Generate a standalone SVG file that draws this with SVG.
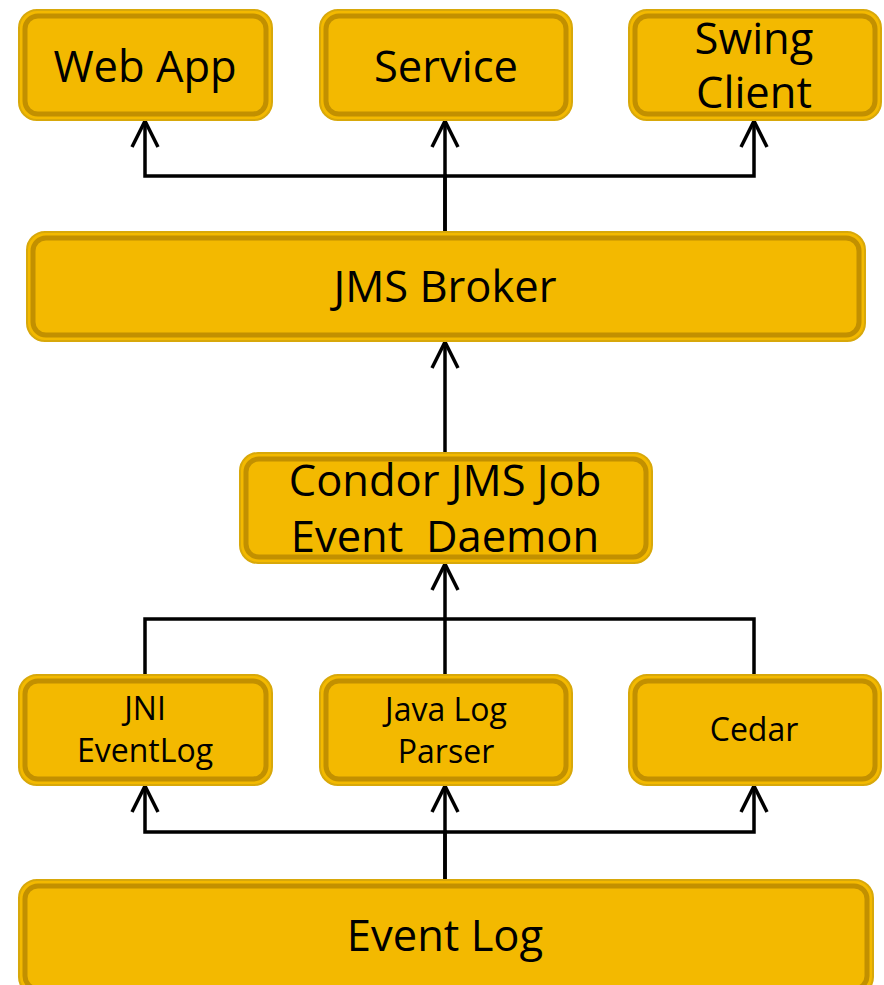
<svg xmlns="http://www.w3.org/2000/svg" width="884" height="985" viewBox="0 0 884 985">
<style>
.o{fill:#F3B900;stroke:#D8A80A;stroke-width:2}
.i{fill:#F3B900;stroke:#C29000;stroke-width:5}
.t{font-family:"Open Sans",sans-serif;fill:#000;text-anchor:middle}
.b{font-size:43.5px}
.s{font-size:32px}
.c{fill:none;stroke:#000;stroke-width:3.5}
</style>
<defs>
<marker id="ah" viewBox="0 0 30 30" refX="27" refY="15" markerWidth="30" markerHeight="30" markerUnits="userSpaceOnUse" orient="auto">
<path d="M1,2 L27,15 L1,28" fill="none" stroke="#000" stroke-width="3.5"/>
</marker>
</defs>
<rect width="884" height="985" fill="#fff"/>
<g id="connectors">
<path class="c" d="M445,231 V176 H145 V121" marker-end="url(#ah)"/>
<path class="c" d="M445,231 V121" marker-end="url(#ah)"/>
<path class="c" d="M445,176 H754 V121" marker-end="url(#ah)"/>
<path class="c" d="M445,452 V342" marker-end="url(#ah)"/>
<path class="c" d="M445,674 V564" marker-end="url(#ah)"/>
<path class="c" d="M145,674 V619 H754 V674"/>
<path class="c" d="M445,880 V832 H145 V786" marker-end="url(#ah)"/>
<path class="c" d="M445,880 V786" marker-end="url(#ah)"/>
<path class="c" d="M445,832 H754 V786" marker-end="url(#ah)"/>
</g>
<g id="webapp">
<rect class="o" x="19" y="10" width="253" height="110" rx="18"/>
<rect class="i" x="25" y="16" width="241" height="98" rx="13"/>
<text class="t b" x="145" y="82">Web App</text>
</g>
<g id="service">
<rect class="o" x="320" y="10" width="252" height="110" rx="18"/>
<rect class="i" x="326" y="16" width="240" height="98" rx="13"/>
<text class="t b" x="446" y="82">Service</text>
</g>
<g id="swing">
<rect class="o" x="629" y="10" width="252" height="110" rx="18"/>
<rect class="i" x="635" y="16" width="240" height="98" rx="13"/>
<text class="t b" x="754" y="54">Swing</text>
<text class="t b" x="754" y="108">Client</text>
</g>
<g id="jmsbroker">
<rect class="o" x="27" y="232" width="838" height="109" rx="18"/>
<rect class="i" x="33" y="238" width="826" height="97" rx="13"/>
<text class="t b" x="445" y="302">JMS Broker</text>
</g>
<g id="condor">
<rect class="o" x="240" y="453" width="412" height="110" rx="18"/>
<rect class="i" x="246" y="459" width="400" height="98" rx="13"/>
<text class="t b" x="445" y="496">Condor JMS Job</text>
<text class="t b" x="445" y="552" xml:space="preserve">Event  Daemon</text>
</g>
<g id="jni">
<rect class="o" x="19" y="675" width="253" height="110" rx="18"/>
<rect class="i" x="25" y="681" width="241" height="98" rx="13"/>
<text class="t s" x="145" y="720">JNI</text>
<text class="t s" x="145" y="762">EventLog</text>
</g>
<g id="javalogparser">
<rect class="o" x="320" y="675" width="252" height="110" rx="18"/>
<rect class="i" x="326" y="681" width="240" height="98" rx="13"/>
<text class="t s" x="446" y="721">Java Log</text>
<text class="t s" x="446" y="763">Parser</text>
</g>
<g id="cedar">
<rect class="o" x="629" y="675" width="252" height="110" rx="18"/>
<rect class="i" x="635" y="681" width="240" height="98" rx="13"/>
<text class="t s" x="754" y="741">Cedar</text>
</g>
<g id="eventlog">
<rect class="o" x="19" y="880" width="854" height="115" rx="18"/>
<rect class="i" x="25" y="886" width="842" height="103" rx="13"/>
<text class="t b" x="445" y="951">Event Log</text>
</g>
</svg>
